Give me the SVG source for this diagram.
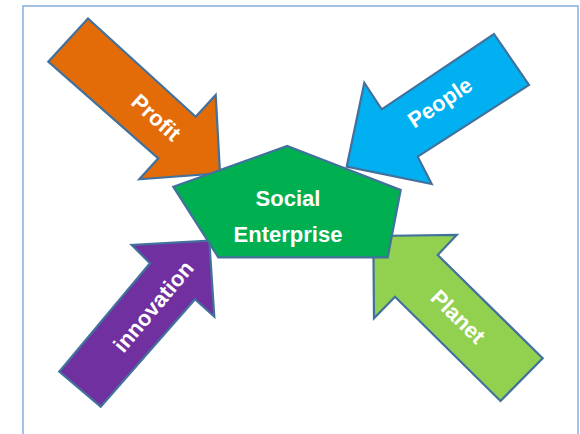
<svg xmlns="http://www.w3.org/2000/svg" width="580" height="434" viewBox="0 0 580 434">
<style>
.shape{stroke:#41719C;stroke-width:2.2;stroke-linejoin:miter}
.lbl{font-family:"Liberation Sans",Arial,sans-serif;font-weight:bold;fill:#ffffff;text-anchor:middle;dominant-baseline:central;font-size:22px}
</style>
<rect x="23" y="6" width="555" height="440" fill="#ffffff" stroke="#8DB3E2" stroke-width="1.6"/>
<g id="connectors">
<g id="profit">
<polygon class="shape" fill="#E36C09" points="88,18.5 195.7,116.7 215.7,95 220,173.3 139.3,179.3 158.3,158.3 48.3,61.7"/>
<text class="lbl" transform="translate(156,117.5) rotate(42)">Profit</text>
</g>
<g id="people">
<polygon class="shape" fill="#00B0F0" points="494,34 529,85 417.7,156.7 431.7,184 346.7,166.7 364.3,82.7 381.7,109.3"/>
<text class="lbl" transform="translate(440,102.5) rotate(-33.8)">People</text>
</g>
<g id="innovation">
<polygon class="shape" fill="#7030A0" points="100.7,406.7 59.3,371.7 150,263.3 131.7,245 209.3,240.7 214.3,316.7 195,299.3"/>
<text class="lbl" transform="translate(153.5,306.5) rotate(-50)">innovation</text>
</g>
<g id="planet">
<polygon class="shape" fill="#92D050" points="373.3,236 456.7,235 437.7,255 542.7,358.3 500.5,401 395,296.7 374,318.3"/>
<text class="lbl" transform="translate(458,316.7) rotate(44.5)">Planet</text>
</g>
</g>
<g id="social-enterprise">
<polygon class="shape" fill="#00B050" points="287.3,146 400.7,190 387.7,257.3 218.3,257.3 173.3,186.7"/>
<text class="lbl" x="288" y="198">Social</text>
<text class="lbl" x="288" y="234">Enterprise</text>
</g>
</svg>
